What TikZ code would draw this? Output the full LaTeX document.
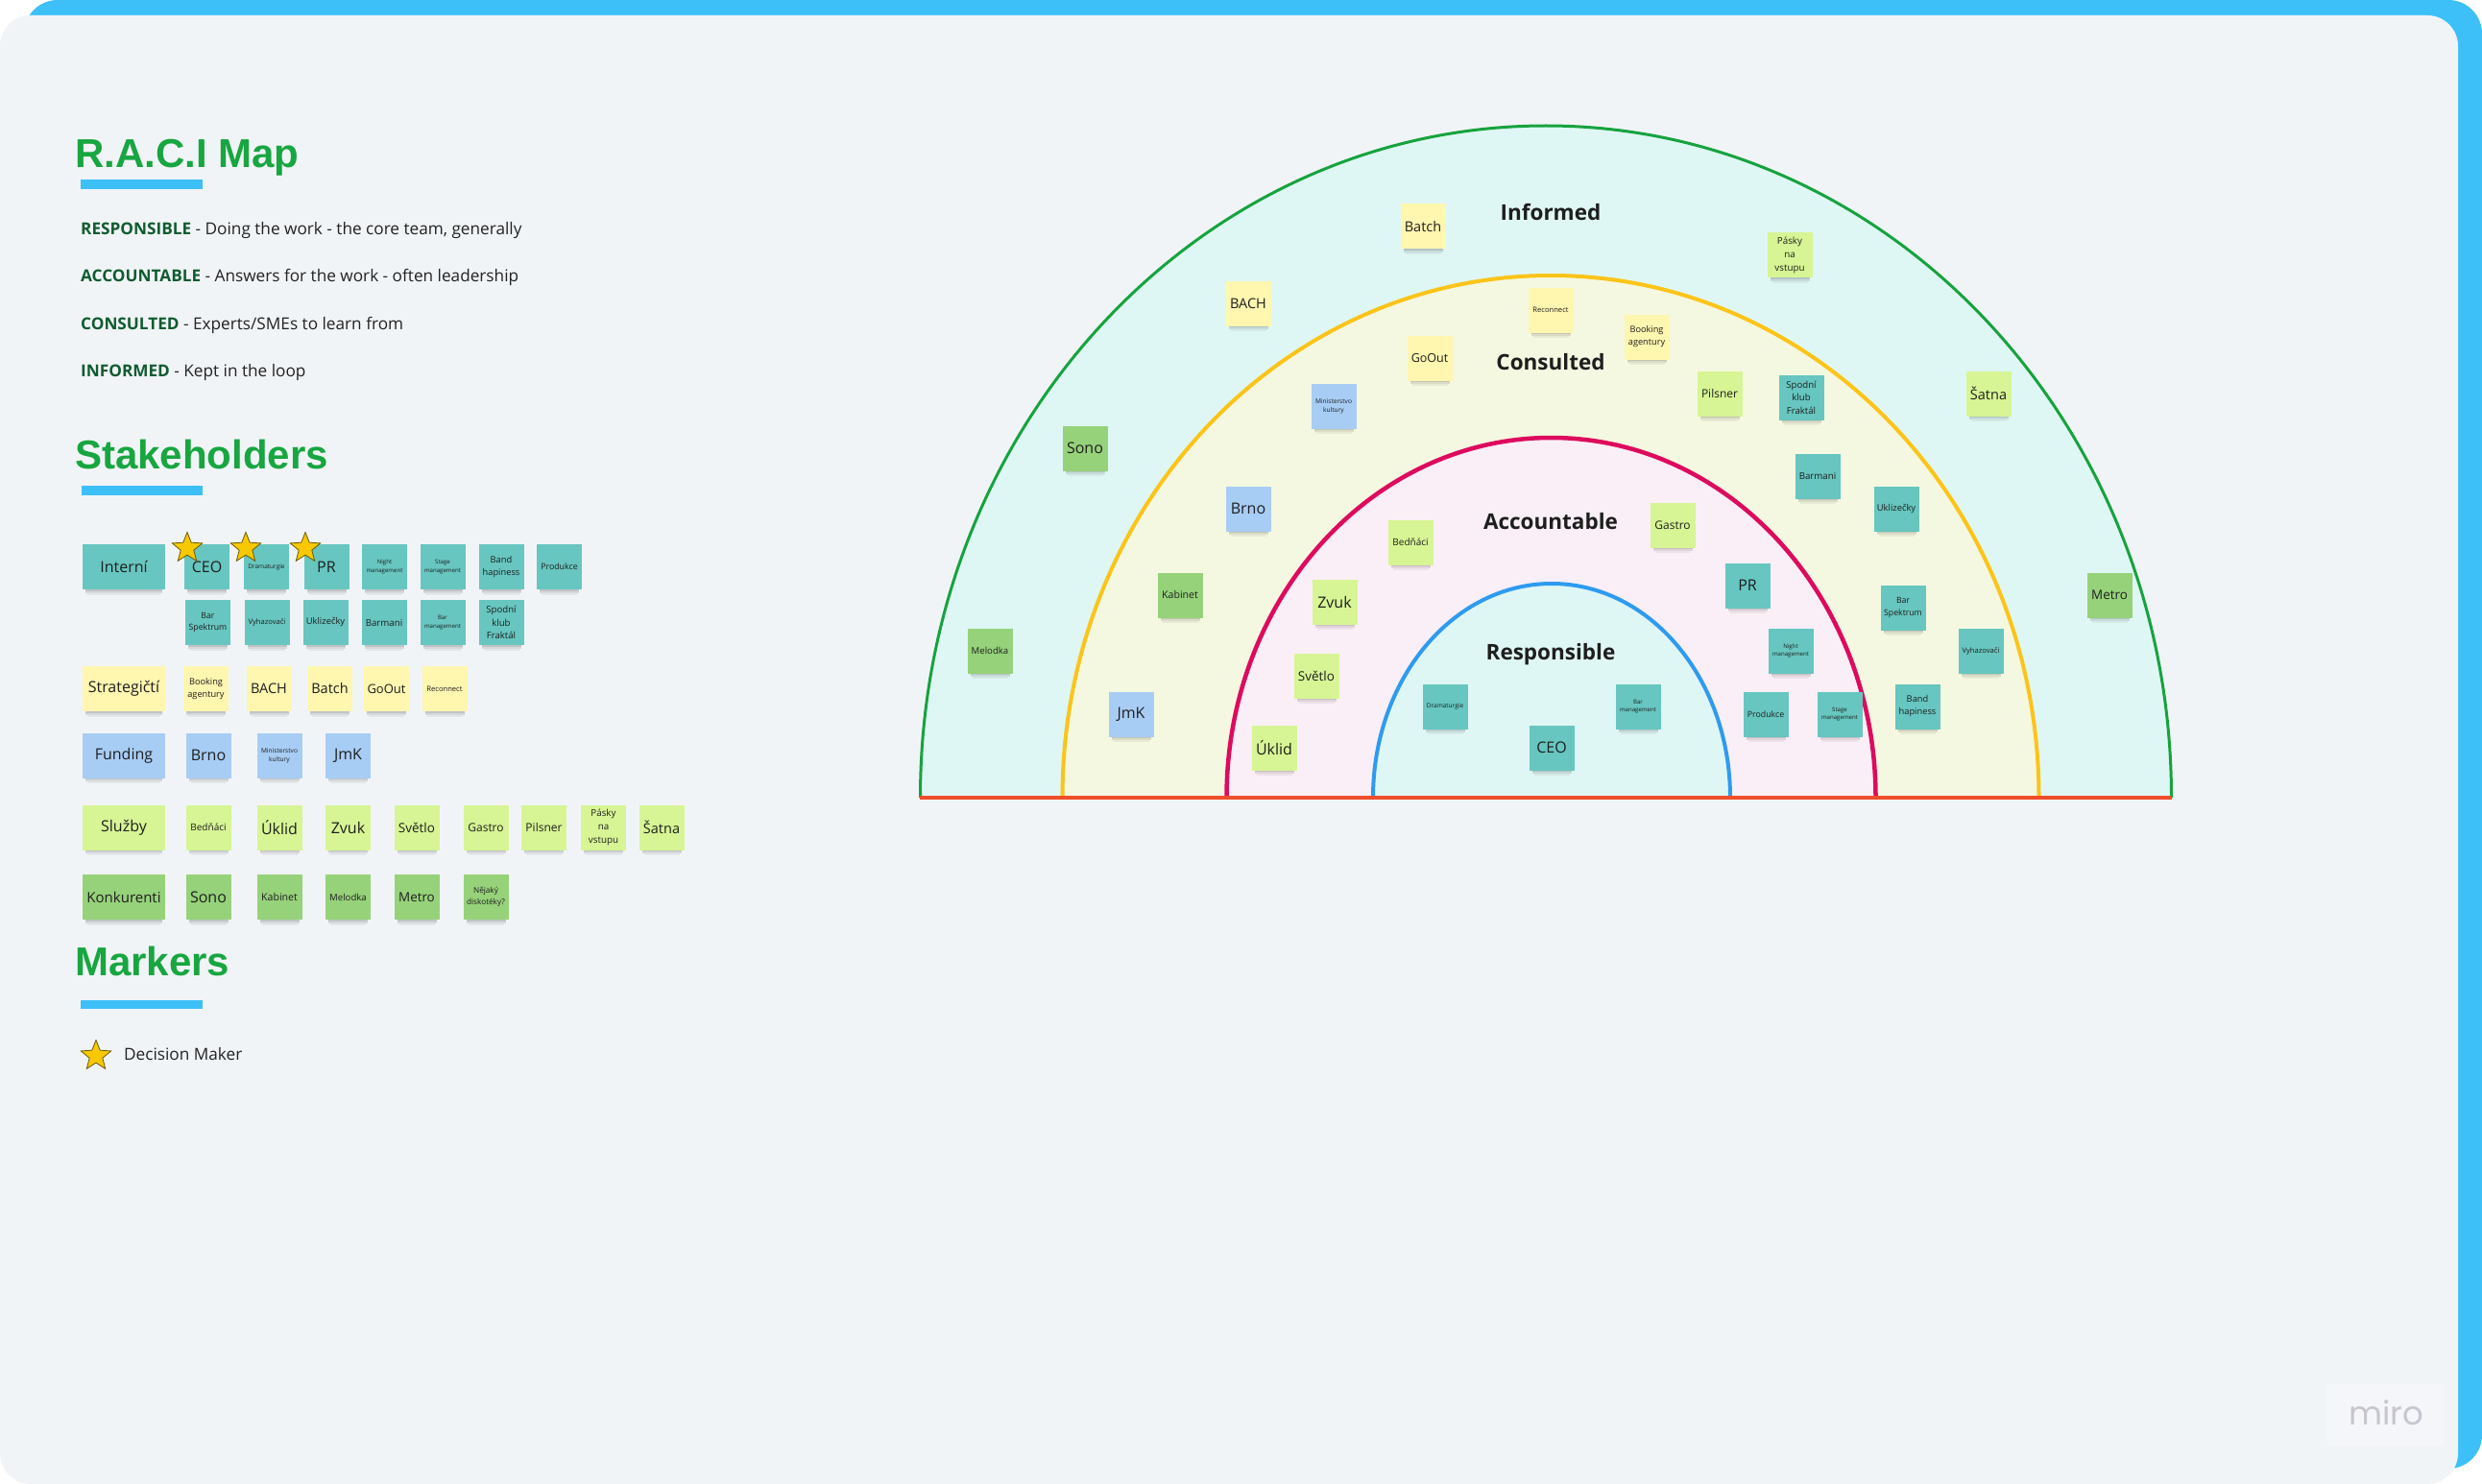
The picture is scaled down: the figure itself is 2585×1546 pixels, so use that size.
\documentclass[tikz,border=0pt]{standalone}
\usepackage{fontspec}
\setmainfont{Open Sans}
\newfontfamily\tfont{Liberation Sans}
\newfontfamily\mfont{Poppins}
\usetikzlibrary{shapes.geometric}
\definecolor{panel}{HTML}{F1F4F7}
\definecolor{logobg}{HTML}{F4F6F9}
\definecolor{topblue}{HTML}{3DC0F8}
\definecolor{ttlgreen}{HTML}{17A640}
\definecolor{defgreen}{HTML}{0F5C2E}
\definecolor{txt}{HTML}{222222}
\definecolor{notetxt}{HTML}{1E1E1E}
\definecolor{cteal}{HTML}{67C6C0}
\definecolor{cyellow}{HTML}{FFF6B0}
\definecolor{cblue}{HTML}{A8CDF5}
\definecolor{clgreen}{HTML}{D7F594}
\definecolor{cgreen}{HTML}{96D27A}
\definecolor{ringI}{HTML}{DFF7F4}
\definecolor{ringC}{HTML}{F5F8E0}
\definecolor{ringA}{HTML}{FAEFF6}
\definecolor{ringR}{HTML}{DFF7F4}
\definecolor{lineI}{HTML}{16A33E}
\definecolor{lineC}{HTML}{FCC419}
\definecolor{lineA}{HTML}{DE0A5E}
\definecolor{lineR}{HTML}{2E9BF0}
\definecolor{baseRed}{HTML}{F04E2A}
\definecolor{starfill}{HTML}{F8C800}
\definecolor{stardraw}{HTML}{6B5B00}
\definecolor{mirotxt}{HTML}{C7C5CF}
\tikzset{
  fs/.style={font=\fontsize{#1}{\dimexpr #1pt*14/10\relax}\selectfont},
  note/.style={rectangle, minimum height=47pt, inner sep=1pt, align=center, text=notetxt},
  teal/.style={fill=cteal}, yel/.style={fill=cyellow}, blu/.style={fill=cblue},
  lgr/.style={fill=clgreen}, grn/.style={fill=cgreen},
  ringlabel/.style={font=\fontsize{22.5}{27}\selectfont\bfseries, text=notetxt},
  heading/.style={anchor=base west, inner sep=0pt, font=\tfont\fontsize{42}{48}\selectfont\bfseries, text=ttlgreen},
  defline/.style={anchor=base west, inner sep=0pt, font=\fontsize{17.2}{20}\selectfont, text=txt},
  dmstar/.style={star, star points=5, star point ratio=2.3, minimum size=33pt, inner sep=0pt, fill=starfill, draw=stardraw, line width=0.8pt},
  ubar/.style={fill=topblue}
}
% #1 name, #2 x, #3 y, #4 half width, #5 colour style, #6 font size, #7 text
\newcommand\nt[7]{%
  \fill[black,opacity=.20] (#2-#4+3,-#3-23) rectangle (#2+#4-3,-#3-25);
  \fill[black,opacity=.11] (#2-#4+3,-#3-25) rectangle (#2+#4-3,-#3-27);
  \fill[black,opacity=.05] (#2-#4+5,-#3-27) rectangle (#2+#4-5,-#3-29);
  \node[note, #5, minimum width=2*#4, fs=#6] (#1) at (#2,-#3) {#7};
}
\begin{document}
\begin{tikzpicture}[x=1pt,y=1pt]
\useasboundingbox (0,0) rectangle (2585,-1546);
\fill[white] (0,0) rectangle (2585,-1546);
\fill[topblue, rounded corners=35pt] (25,0) rectangle (2585,-1530);
\fill[panel, rounded corners=32pt] (0,-16) rectangle (2560,-1546);

% miro logo
\fill[logobg] (2424,-1442) rectangle (2545,-1506);
\node[text=mirotxt, font=\mfont\fontsize{34}{40}\selectfont, inner sep=0pt] (miro) at (2485,-1472) {miro};

% headings
\node[heading] (raci) at (78,-175) {R.A.C.I Map};
\fill[ubar] (84,-187) rectangle (211,-197);
\node[defline] (dR) at (84,-245) {\textcolor{defgreen}{\bfseries RESPONSIBLE} - Doing the work - the core team, generally};
\node[defline] (dA) at (84,-294) {\textcolor{defgreen}{\bfseries ACCOUNTABLE} - Answers for the work - often leadership};
\node[defline] (dC) at (84,-343) {\textcolor{defgreen}{\bfseries CONSULTED} - Experts/SMEs to learn from};
\node[defline] (dI) at (84,-392) {\textcolor{defgreen}{\bfseries INFORMED} - Kept in the loop};

\node[heading] (stk) at (78,-488) {Stakeholders};
\fill[ubar] (85,-506) rectangle (211,-516);

% stakeholder grid
\nt{gInt}{129}{590.5}{43}{teal}{16}{Interní}
\nt{gCEO}{215.5}{590.5}{23.5}{teal}{16}{CEO}
\nt{gDra}{277.5}{590.5}{23.5}{teal}{6.5}{Dramaturgie}
\nt{gPR}{340}{590.5}{23.5}{teal}{16}{PR}
\nt{gNig}{400.5}{590.5}{23.5}{teal}{6.1}{Night\\management}
\nt{gSta}{461}{590.5}{23.5}{teal}{6.1}{Stage\\management}
\nt{gBan}{522}{590.5}{23.5}{teal}{9.3}{Band\\hapiness}
\nt{gPro}{582.5}{590.5}{23.5}{teal}{8.8}{Produkce}
\nt{gBSp}{216.5}{648.5}{23.5}{teal}{8.7}{Bar\\Spektrum}
\nt{gVyh}{278}{648.5}{23.5}{teal}{7.6}{Vyhazovači}
\nt{gUkl}{339}{648.5}{23.5}{teal}{9.4}{Uklizečky}
\nt{gBar}{400}{648.5}{23.5}{teal}{9.7}{Barmani}
\nt{gBMa}{461}{648.5}{23.5}{teal}{6.1}{Bar\\management}
\nt{gSpo}{522}{648.5}{23.5}{teal}{9.6}{Spodní\\klub\\Fraktál}

\nt{gStr}{129}{717.5}{43}{yel}{16}{Strategičtí}
\nt{gBoo}{214.5}{717.5}{23.5}{yel}{9.2}{Booking\\agentury}
\nt{gBACH}{280}{717.5}{23.5}{yel}{14.5}{BACH}
\nt{gBat}{343.5}{717.5}{23.5}{yel}{14.5}{Batch}
\nt{gGoO}{402.5}{717.5}{23.5}{yel}{13}{GoOut}
\nt{gRec}{463}{717.5}{23.5}{yel}{7.6}{Reconnect}

\nt{gFun}{129}{787}{43}{blu}{16}{Funding}
\nt{gBrn}{217}{787}{23.5}{blu}{16}{Brno}
\nt{gMin}{291}{787}{23.5}{blu}{6.6}{Ministerstvo\\kultury}
\nt{gJmK}{362.5}{787}{23.5}{blu}{16}{JmK}

\nt{gSlu}{129}{862}{43}{lgr}{16}{Služby}
\nt{gBed}{217}{862}{23.5}{lgr}{10}{Bedňáci}
\nt{gUkd}{291}{862}{23.5}{lgr}{16}{Úklid}
\nt{gZvu}{362.5}{862}{23.5}{lgr}{16}{Zvuk}
\nt{gSve}{434}{862}{23.5}{lgr}{13.5}{Světlo}
\nt{gGas}{506}{862}{23.5}{lgr}{12}{Gastro}
\nt{gPil}{566.5}{862}{23.5}{lgr}{12}{Pilsner}
\nt{gPas}{628.5}{862}{23.5}{lgr}{9.8}{Pásky\\na\\vstupu}
\nt{gSat}{689}{862}{23.5}{lgr}{14.5}{Šatna}

\nt{gKon}{129}{934.5}{43}{grn}{15}{Konkurenti}
\nt{gSon}{217}{934.5}{23.5}{grn}{16}{Sono}
\nt{gKab}{291}{934.5}{23.5}{grn}{10.6}{Kabinet}
\nt{gMel}{362.5}{934.5}{23.5}{grn}{9.6}{Melodka}
\nt{gMet}{434}{934.5}{23.5}{grn}{13.4}{Metro}
\nt{gNej}{506}{934.5}{23.5}{grn}{8.2}{Nějaký\\diskotéky?}

\node[dmstar] (s1) at (195,-571) {};
\node[dmstar] (s2) at (256,-571) {};
\node[dmstar] (s3) at (318,-571) {};

\node[heading] (mrk) at (78,-1016) {Markers};
\fill[ubar] (84,-1042) rectangle (211,-1051);
\node[dmstar] (s4) at (100,-1100) {};
\node[anchor=west, inner sep=0pt, font=\fontsize{17.2}{20}\selectfont, text=txt] (dm) at (129,-1098) {Decision Maker};

% RACI semicircles
\fill[ringI] (1610-651.5,-831) arc[start angle=180, end angle=0, x radius=651.5, y radius=700] -- cycle;
\draw[lineI, line width=3pt] (1610-651.5,-831) arc[start angle=180, end angle=0, x radius=651.5, y radius=700];
\fill[ringC] (1615-508.5,-831) arc[start angle=180, end angle=0, x radius=508.5, y radius=544] -- cycle;
\draw[lineC, line width=4pt] (1615-508.5,-831) arc[start angle=180, end angle=0, x radius=508.5, y radius=544];
\fill[ringA] (1615.5-338,-831) arc[start angle=180, end angle=0, x radius=338, y radius=375] -- cycle;
\draw[lineA, line width=4.5pt] (1615.5-338,-831) arc[start angle=180, end angle=0, x radius=338, y radius=375];
\fill[ringR] (1616-186,-831) arc[start angle=180, end angle=0, x radius=186, y radius=223] -- cycle;
\draw[lineR, line width=4pt] (1616-186,-831) arc[start angle=180, end angle=0, x radius=186, y radius=223];
\draw[draw=baseRed, line width=3.5pt] (958,-831) -- (2262,-831);

\node[ringlabel] (lI) at (1615,-221) {Informed};
\node[ringlabel] (lC) at (1615,-377) {Consulted};
\node[ringlabel] (lA) at (1615,-543) {Accountable};
\node[ringlabel] (lR) at (1615,-682) {Responsible};

% Informed
\nt{rBat}{1482}{236}{23.5}{yel}{14.5}{Batch}
\nt{rBACH}{1300}{316}{23.5}{yel}{14.5}{BACH}
\nt{rPas}{1864}{266}{23.5}{lgr}{9.8}{Pásky\\na\\vstupu}
\nt{rSon}{1130}{467}{23.5}{grn}{16}{Sono}
\nt{rSat}{2071}{410}{23.5}{lgr}{14.5}{Šatna}
\nt{rMel}{1031}{678}{23.5}{grn}{9.6}{Melodka}
\nt{rMet}{2197}{620}{23.5}{grn}{13.4}{Metro}
% Consulted
\nt{rRec}{1615}{323}{23.5}{yel}{7.6}{Reconnect}
\nt{rBoo}{1715}{351}{23.5}{yel}{9.2}{Booking\\agentury}
\nt{rGoO}{1489}{373}{23.5}{yel}{12.5}{GoOut}
\nt{rMin}{1389}{423}{23.5}{blu}{6.6}{Ministerstvo\\kultury}
\nt{rPil}{1791}{410}{23.5}{lgr}{12}{Pilsner}
\nt{rSpo}{1876}{414}{23.5}{teal}{9.6}{Spodní\\klub\\Fraktál}
\nt{rBrn}{1300}{530}{23.5}{blu}{16}{Brno}
\nt{rBar}{1893}{496}{23.5}{teal}{9.7}{Barmani}
\nt{rUkl}{1975}{530}{23.5}{teal}{9.4}{Uklizečky}
\nt{rKab}{1229}{620}{23.5}{grn}{10.6}{Kabinet}
\nt{rBSp}{1982}{633}{23.5}{teal}{8.7}{Bar\\Spektrum}
\nt{rVyh}{2063}{678}{23.5}{teal}{7.6}{Vyhazovači}
\nt{rJmK}{1178}{744}{23.5}{blu}{16}{JmK}
\nt{rBan}{1997}{736}{23.5}{teal}{9.3}{Band\\hapiness}
% Accountable
\nt{rBed}{1469}{565}{23.5}{lgr}{10}{Bedňáci}
\nt{rGas}{1742}{547}{23.5}{lgr}{12}{Gastro}
\nt{rZvu}{1390}{627}{23.5}{lgr}{16}{Zvuk}
\nt{rPR}{1820}{610}{23.5}{teal}{16}{PR}
\nt{rNig}{1865}{678}{23.5}{teal}{6.1}{Night\\management}
\nt{rSve}{1371}{704}{23.5}{lgr}{13.5}{Světlo}
\nt{rPro}{1839}{744}{23.5}{teal}{8.8}{Produkce}
\nt{rSta}{1916}{744}{23.5}{teal}{6.1}{Stage\\management}
\nt{rUkd}{1327}{779}{23.5}{lgr}{16}{Úklid}
% Responsible
\nt{rDra}{1505}{736}{23.5}{teal}{6.5}{Dramaturgie}
\nt{rBMa}{1706}{736}{23.5}{teal}{6.1}{Bar\\management}
\nt{rCEO}{1616}{779}{23.5}{teal}{16}{CEO}
\end{tikzpicture}
\end{document}
